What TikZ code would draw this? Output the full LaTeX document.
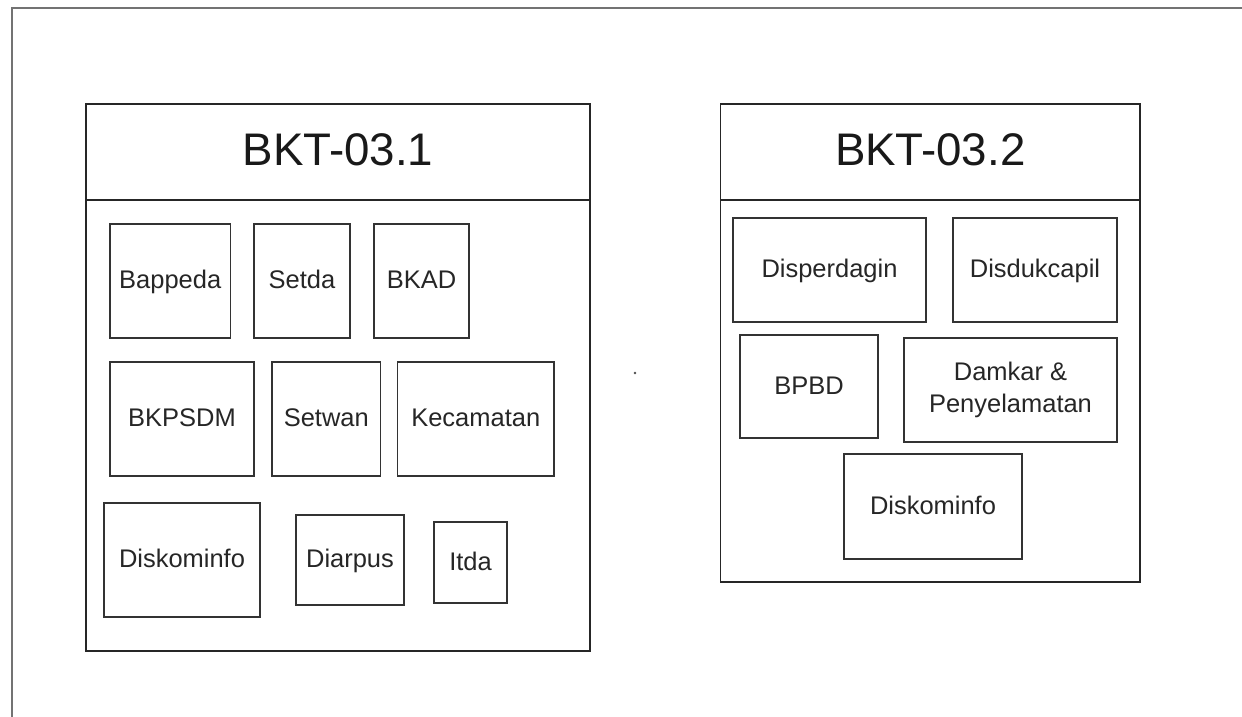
\documentclass[tikz,border=0pt]{standalone}
\usepackage{fontspec}
\setmainfont{Liberation Sans}
\usetikzlibrary{positioning}

\begin{document}
\begin{tikzpicture}[
    x=0.02cm, y=-0.02cm,
    unit/.style 2 args={draw=black!80, line width=0.8pt, inner sep=0pt, align=center,
        minimum width=#1*0.02cm, minimum height=#2*0.02cm,
        text height=10.4pt, text depth=1.6pt,
        text=black!85, font=\fontsize{14.5}{18}\selectfont},
    twoline/.style={text height={}, text depth={}},
    title/.style 2 args={draw=black!85, line width=0.8pt, inner sep=0pt,
        minimum width=#1*0.02cm, minimum height=#2*0.02cm,
        text height=18.6pt, text depth=3.4pt,
        text=black!90, font=\fontsize{26}{30}\selectfont},
    group/.style 2 args={draw=black!85, line width=0.8pt, inner sep=0pt,
        minimum width=#1*0.02cm, minimum height=#2*0.02cm}
]
\useasboundingbox (0,0) rectangle (1242,717);

% -------------------------
% Page Frame
% -------------------------
\coordinate (FrameTL) at (12,8);
\coordinate (FrameTR) at (1242,8);
\coordinate (FrameBL) at (12,717);
\draw[black!55, line width=1.7pt] (FrameTR) -- (FrameTL) -- (FrameBL);

% -------------------------
% Group Boxes (title + body)
% -------------------------
\node[title={504}{96}] (T1) at (338,152) {BKT-03.1};
\node[group={504}{451}] (G1) at (338,425.5) {};

\node[title={419.5}{96}] (T2) at (930.25,152) {BKT-03.2};
\node[group={419.5}{382}] (G2) at (930.25,391) {};

% -------------------------
% BKT-03.1 Units
% -------------------------
\node[unit={120.5}{114}] (Bappeda) at (170.25,281) {Bappeda};
\node[unit={96}{114}] (Setda) at (302,281) {Setda};
\node[unit={95}{114}] (BKAD) at (421.5,281) {BKAD};

\node[unit={144}{114}] (BKPSDM) at (182,419) {BKPSDM};
\node[unit={108.5}{114}] (Setwan) at (326.25,419) {Setwan};
\node[unit={156.5}{114}] (Kecamatan) at (475.75,419) {Kecamatan};

\node[unit={156}{114}] (DiskominfoA) at (182,560) {Diskominfo};
\node[unit={108}{90}] (Diarpus) at (350,560) {Diarpus};
\node[unit={73}{81}] (Itda) at (470.5,562.5) {Itda};

% -------------------------
% BKT-03.2 Units
% -------------------------
\node[unit={193}{104}] (Disperdagin) at (829.5,270) {Disperdagin};
\node[unit={164}{104}] (Disdukcapil) at (1035,270) {Disdukcapil};

\node[unit={138}{103}] (BPBD) at (809,386.5) {BPBD};
\node[unit={213}{104}, twoline] (Damkar) at (1010.5,390) {Damkar \&\\Penyelamatan};

\node[unit={178}{105}] (DiskominfoB) at (933,506.5) {Diskominfo};

% stray dot between the groups
\fill[black!70] (635,373) circle (1.4);

\end{tikzpicture}
\end{document}
